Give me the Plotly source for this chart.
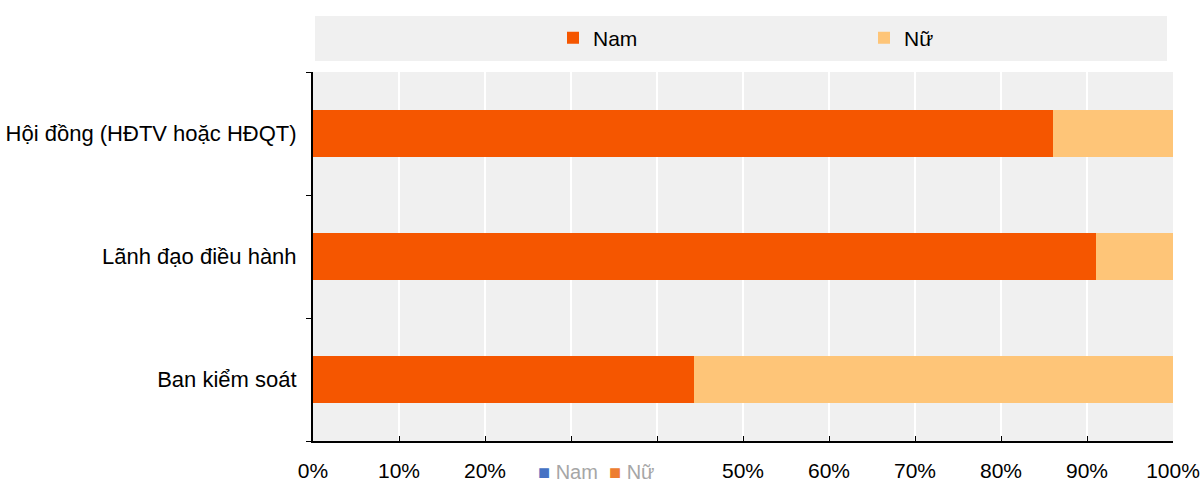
import plotly.graph_objects as go

categories = ["Hội đồng (HĐTV hoặc HĐQT)", "Lãnh đạo điều hành", "Ban kiểm soát"]
nam = [86.0, 91.0, 44.3]
nu = [14.0, 9.0, 55.7]
x_ticks = [0, 10, 20, 30, 40, 50, 60, 70, 80, 90, 100]
x_tick_labels = [f"{v}%" for v in x_ticks]

FONT = "Liberation Sans Narrow, Arial Narrow, Liberation Sans, Arial, sans-serif"
NAM_COLOR = "#F55600"
NU_COLOR = "#FEC578"

fig = go.Figure()
fig.add_trace(go.Bar(
    y=categories, x=nam, name="Nam", orientation="h",
    marker=dict(color=NAM_COLOR, line=dict(width=0)), width=0.39,
))
fig.add_trace(go.Bar(
    y=categories, x=nu, name="Nữ", orientation="h",
    marker=dict(color=NU_COLOR, line=dict(width=0)), width=0.39,
))

fig.update_layout(
    width=1200, height=483,
    barmode="stack",
    paper_bgcolor="white",
    plot_bgcolor="#F0F0F0",
    margin=dict(l=313, r=27, t=72, b=42, autoexpand=False),
    font=dict(family=FONT, size=21, color="#000000"),
    showlegend=True,
    legend=dict(
        orientation="h", traceorder="normal",
        xref="container", yref="container",
        x=553 / 1200, xanchor="left", y=1 - 38 / 483, yanchor="middle",
        bgcolor="rgba(0,0,0,0)", font=dict(family=FONT, size=21),
        entrywidth=266, entrywidthmode="pixels", itemwidth=30,
    ),
)

# grey band behind the top legend
fig.add_shape(type="rect", xref="paper", yref="paper",
              x0=0.0023, x1=0.9930, y0=(441 - 61) / 369, y1=(441 - 16) / 369,
              fillcolor="#F0F0F0", line=dict(width=0), layer="below")

fig.update_xaxes(
    range=[0, 100], tickvals=x_ticks, ticktext=x_tick_labels,
    showgrid=True, gridcolor="white", gridwidth=2,
    showline=True, linecolor="black", linewidth=2,
    ticks="inside", ticklen=5, tickcolor="black", tickwidth=1,
    ticklabelstandoff=10, zeroline=False,
    tickfont=dict(family=FONT, size=21),
)
fig.update_yaxes(
    categoryorder="array", categoryarray=categories[::-1],
    showgrid=False, showline=True, linecolor="black", linewidth=2,
    ticks="outside", ticklen=5, tickcolor="black", tickson="boundaries",
    ticklabelstandoff=10,
    tickfont=dict(family=FONT, size=22),
)

# small secondary legend under the axis, on a white patch
fig.add_annotation(xref="paper", yref="paper", x=(536 - 313) / 860, y=-(472 - 441) / 369,
                   text="<span style='color:#4472C4'>■</span> Nam  <span style='color:#ED7D31'>■</span> Nữ",
                   showarrow=False, xanchor="left", yanchor="middle",
                   bgcolor="white", width=160, height=28, align="left",
                   font=dict(family="Liberation Sans, Arial, sans-serif", size=20, color="#A6A6A6"))

fig.write_html("out.html")
